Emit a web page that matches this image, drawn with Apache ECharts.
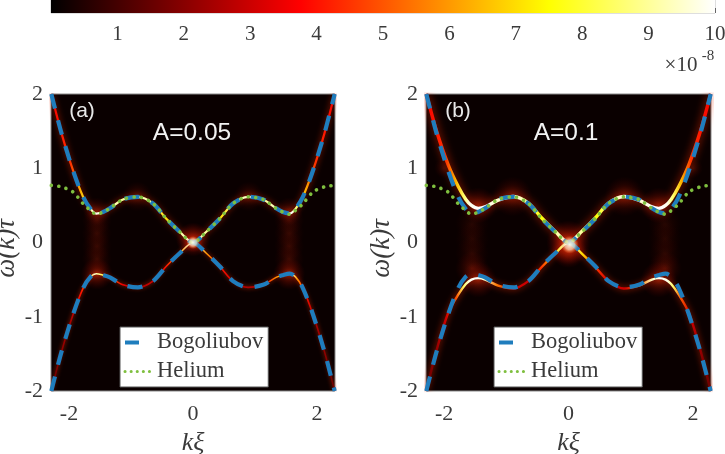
<!DOCTYPE html>
<html><head><meta charset="utf-8">
<style>html,body{margin:0;padding:0;background:#fff}#c{width:725px;height:454px;filter:blur(.55px)}</style>
<script src="https://cdn.jsdelivr.net/npm/echarts@6/dist/echarts.min.js"></script>
</head><body><div id="c"></div>
<script>
const colorbarTicks = [1,2,3,4,5,6,7,8,9,10];
const hotStops = [[0,'#000000'],[3.75,'#ff0000'],[7.5,'#ffff00'],[10,'#ffffff']];
const kTicks = [-2,0,2];
const wTicks = [-2,-1,0,1,2];

const k =        [-2.285,-2.12,-1.935,-1.77,-1.65,-1.56,-1.45,-1.34,-1.13,-0.89,-0.645,-0.43,-0.215,0,0.215,0.43,0.645,0.89,1.13,1.34,1.45,1.56,1.65,1.77,1.935,2.12,2.285];
const bogUp =    [2,1.47,0.97,0.61,0.45,0.39,0.41,0.46,0.58,0.615,0.525,0.32,0.145,0,0.145,0.32,0.525,0.615,0.58,0.46,0.41,0.39,0.45,0.61,0.97,1.47,2];
const bogDown =  [-2,-1.47,-0.97,-0.61,-0.46,-0.42,-0.44,-0.47,-0.57,-0.605,-0.52,-0.32,-0.145,0,-0.145,-0.32,-0.52,-0.605,-0.57,-0.47,-0.44,-0.42,-0.46,-0.61,-0.97,-1.47,-2];
const helium =   [0.77,0.75,0.68,0.52,0.43,0.38,0.41,0.46,0.58,0.615,0.525,0.32,0.145,0,0.145,0.32,0.525,0.615,0.58,0.46,0.41,0.38,0.43,0.52,0.68,0.75,0.77];

const ridgeAUp =   bogUp;
const ridgeADown = bogDown;
const heatAUp =    [3.5,4,4.5,6.5,8.5,10,9.5,9.5,9,9.5,9,7,9,10,9,7,9,9.5,9,9.5,9.5,10,8.5,6.5,4.5,4,3.5];
const heatADown =  [1.5,2,2.5,4,6,9.5,8.5,6,3.5,2.5,3,4,6,10,6,4,3,2.5,3.5,6,8.5,9.5,6,4,2.5,2,1.5];

const ridgeBUp =   [2,1.5,1.05,0.75,0.58,0.5,0.46,0.48,0.57,0.62,0.53,0.33,0.15,0,0.15,0.33,0.53,0.62,0.57,0.48,0.46,0.5,0.58,0.75,1.05,1.5,2];
const ridgeBDown = [-2,-1.45,-0.95,-0.7,-0.56,-0.5,-0.48,-0.5,-0.58,-0.62,-0.52,-0.33,-0.15,0,-0.15,-0.33,-0.52,-0.62,-0.58,-0.5,-0.48,-0.5,-0.56,-0.7,-0.95,-1.45,-2];
const heatBUp =    [3.5,4,4.5,6.5,8.5,9.8,10,10,9.5,9.8,9,7.5,9,10,9,7.5,9,9.8,9.5,10,10,9.8,8.5,6.5,4.5,4,3.5];
const heatBDown =  [1.5,2,3,5,8.5,9.8,10,9.5,5.5,3,3,4.5,7,10,7,4.5,3,3,5.5,9.5,10,9.8,8.5,5,3,2,1.5];

/* glow patches: k, omega, size, strength */
const glowA = [[-1.55,0.3,30,.2],[-1.55,0.12,30,.18],[-1.55,-0.05,30,.18],[-1.55,-0.22,30,.2],[-1.55,-0.42,32,.55],[-1.55,0.42,28,.35],
               [1.55,0.3,30,.2],[1.55,0.12,30,.18],[1.55,-0.05,30,.18],[1.55,-0.22,30,.2],[1.55,-0.42,32,.55],[1.55,0.42,28,.35],
               [0,0.04,34,.8],[0,0,20,.9],[-0.9,0.62,30,.25],[0.9,0.62,30,.25]];
const glowB = [[-1.55,0.25,34,.12],[-1.55,0.05,34,.12],[-1.55,-0.15,34,.14],[-1.55,-0.35,34,.3],[-1.45,-0.5,36,.5],[-1.45,0.5,36,.5],
               [1.55,0.25,34,.12],[1.55,0.05,34,.12],[1.55,-0.15,34,.14],[1.55,-0.35,34,.3],[1.45,-0.5,36,.5],[1.45,0.5,36,.5],
               [0,0,44,.85],[0,-0.1,36,.7],[-0.9,0.62,40,.35],[0.9,0.62,40,.35],[-2,1.0,20,.2],[2,1.0,20,.2]];
const coreA = [[0,0.0,13,.95]];
const coreB = [[0.02,-0.03,18,.95]];

const BLUE='#1f7dbd', GREEN='#7fbf3f', SERIF='"Liberation Serif",serif', SANS='"Liberation Sans",sans-serif', INK='#3a3a3a';
const zip=(a,b)=>a.map((v,i)=>[v,b[i]]);
function hot(v){
  for(let i=1;i<hotStops.length;i++){
    if(v<=hotStops[i][0]){
      const [a,ca]=hotStops[i-1],[b,cb]=hotStops[i],t=(v-a)/(b-a);
      const p=c=>[1,3,5].map(j=>parseInt(c.substr(j,2),16));
      const A=p(ca),B=p(cb);
      return 'rgb('+A.map((x,j)=>Math.round(x+(B[j]-x)*t)).join(',')+')';
    }
  }
  return '#fff';
}
const heatGrad=(heat)=>({type:'linear',x:0,y:0,x2:1,y2:0,colorStops:k.map((v,i)=>({offset:(v-k[0])/(k[k.length-1]-k[0]),color:hot(heat[i])}))});

function ridge(idx,vals,heat,w,blur){
  return {type:'line',xAxisIndex:idx,yAxisIndex:idx,data:zip(k,vals),smooth:.3,symbol:'none',silent:true,z:3,
    lineStyle:{width:w,color:heatGrad(heat),shadowBlur:blur,shadowColor:'rgba(230,40,0,.85)'}};
}
function glow(idx,list){
  return {type:'scatter',xAxisIndex:idx,yAxisIndex:idx,silent:true,z:2,symbolSize:v=>v[2],
    data:list.map(g=>({value:g,itemStyle:{opacity:g[3]}})),
    itemStyle:{color:{type:'radial',x:.5,y:.5,r:.5,colorStops:[{offset:0,color:'rgba(240,50,10,1)'},{offset:.5,color:'rgba(170,20,0,.55)'},{offset:1,color:'rgba(120,0,0,0)'}]}}};
}
function core(idx,list){
  return {type:'scatter',xAxisIndex:idx,yAxisIndex:idx,silent:true,z:7,symbolSize:v=>v[2],
    data:list.map(g=>({value:g,itemStyle:{opacity:g[3]}})),
    itemStyle:{color:{type:'radial',x:.5,y:.5,r:.5,colorStops:[{offset:0,color:'rgba(255,255,240,1)'},{offset:.55,color:'rgba(255,235,200,.7)'},{offset:1,color:'rgba(255,120,40,0)'}]}}};
}
function curves(idx,dash){
  const base={type:'line',xAxisIndex:idx,yAxisIndex:idx,smooth:.3,symbol:'none',silent:true,clip:false};
  return [
    {...base,name:'Bogoliubov',data:zip(k,bogUp),z:5,lineStyle:{color:BLUE,width:4.2,type:dash}},
    {...base,name:'Bogoliubov',data:zip(k,bogDown),z:5,lineStyle:{color:BLUE,width:4.2,type:dash}},
    {...base,name:'Helium',data:zip(k,helium),z:6,clip:true,lineStyle:{color:GREEN,width:3.6,type:[.1,7.4],cap:'round'}}
  ];
}
const hideSym={color:'transparent',borderColor:'transparent',borderWidth:0,opacity:0};
const legendData=[
  {name:'Bogoliubov',itemStyle:hideSym,lineStyle:{color:BLUE,width:4,type:[14,40]}},
  {name:'Helium',itemStyle:hideSym,lineStyle:{color:GREEN,width:3,type:[.1,6],cap:'round'}}
];
function legend(left){
  return {left,top:327,orient:'vertical',data:legendData,selectedMode:false,itemWidth:28,itemHeight:14,itemGap:6,
    padding:[4,5,4,3],backgroundColor:'#fff',borderColor:'#555',borderWidth:1,borderRadius:0,z:20,
    textStyle:{fontFamily:SERIF,fontSize:22.5,color:INK,padding:[0,0,0,-1]}};
}
function xAx(grid){
  return {type:'value',gridIndex:grid,min:-2.29,max:2.29,name:'kξ',nameLocation:'middle',nameGap:37,
    nameTextStyle:{fontFamily:SERIF,fontStyle:'italic',fontSize:26,color:INK},
    axisLine:{show:false},splitLine:{show:false},
    axisTick:{show:false},
    axisLabel:{customValues:kTicks,fontFamily:SERIF,fontSize:22,color:INK,margin:12,showMinLabel:true,showMaxLabel:true,formatter:v=>String(v)}};
}
function yAx(grid){
  return {type:'value',gridIndex:grid,min:-2,max:2,name:'ω(k)τ',nameLocation:'middle',nameGap:27,
    nameTextStyle:{fontFamily:SERIF,fontStyle:'italic',fontSize:27,color:INK,padding:[0,12,0,0]},
    axisLine:{show:false},splitLine:{show:false},
    axisTick:{show:false},
    axisLabel:{customValues:wTicks,fontFamily:SERIF,fontSize:22,color:INK,margin:8,formatter:v=>String(v)}};
}
function txt(text,x,y,size,fill,extra){
  return {type:'text',x,y,z:30,silent:true,style:Object.assign({text,fill,fontFamily:SANS,fontSize:size,align:'center',verticalAlign:'middle'},extra||{})};
}
const frame={show:true,backgroundColor:'#0a0000',borderColor:'#8a8a8a',borderWidth:1,outerBoundsMode:'none'};
const option={
  animation:false,backgroundColor:'#fff',
  grid:[
    {left:51,top:-6,width:664,height:19,show:true,borderColor:'#bdbdbd',borderWidth:1,backgroundColor:'transparent',outerBoundsMode:'none'},
    {left:51,top:94,width:284,height:297,...frame},
    {left:426,top:94,width:285,height:297,...frame}
  ],
  xAxis:[
    {type:'value',gridIndex:0,min:0,max:10,interval:1,axisLine:{show:false},splitLine:{show:false},
     axisTick:{show:true,inside:true,length:5,lineStyle:{color:'#666',width:1}},
     axisLabel:{fontFamily:SERIF,fontSize:21,color:INK,margin:11,showMinLabel:false,showMaxLabel:true,hideOverlap:false,formatter:v=>colorbarTicks.includes(v)?String(v):''}},
    xAx(1),xAx(2)
  ],
  yAxis:[
    {type:'value',gridIndex:0,min:0,max:1,show:false},
    yAx(1),yAx(2)
  ],
  legend:[legend(120),legend(494)],
  series:[
    {type:'custom',xAxisIndex:0,yAxisIndex:0,silent:true,clip:true,data:[[0,10]],encode:{x:[0,1]},
     renderItem:(p,api)=>{
       const a=api.coord([api.value(0),1]),b=api.coord([api.value(1),0]);
       return {type:'rect',shape:{x:a[0],y:a[1],width:b[0]-a[0],height:b[1]-a[1]},
         style:{fill:{type:'linear',x:0,y:0,x2:1,y2:0,colorStops:hotStops.map(([v,c])=>({offset:v/10,color:c}))}}};
     }},
    glow(1,glowA),
    ridge(1,ridgeAUp,heatAUp,2.2,6),ridge(1,ridgeADown,heatADown,1.6,4),
    ...curves(1,[15,12]),
    core(1,coreA),
    glow(2,glowB),
    ridge(2,ridgeBUp,heatBUp,3.4,9),ridge(2,ridgeBDown,heatBDown,2.4,6),
    ...curves(2,[15,12]),
    core(2,coreB)
  ],
  graphic:[
    txt('(a)',82,111,21,'#e8e8e8'),
    txt('A=0.05',192,133,24.5,'#f2f2f2'),
    txt('(b)',458,111,21,'#e8e8e8'),
    txt('A=0.1',566,133,24.5,'#f2f2f2'),
    txt('×10',681,65,21,INK,{fontFamily:SERIF}),
    txt('-8',708,56,15,INK,{fontFamily:SERIF})
  ]
};
echarts.init(document.getElementById('c'),null,{renderer:'canvas'}).setOption(option);
</script></body></html>
